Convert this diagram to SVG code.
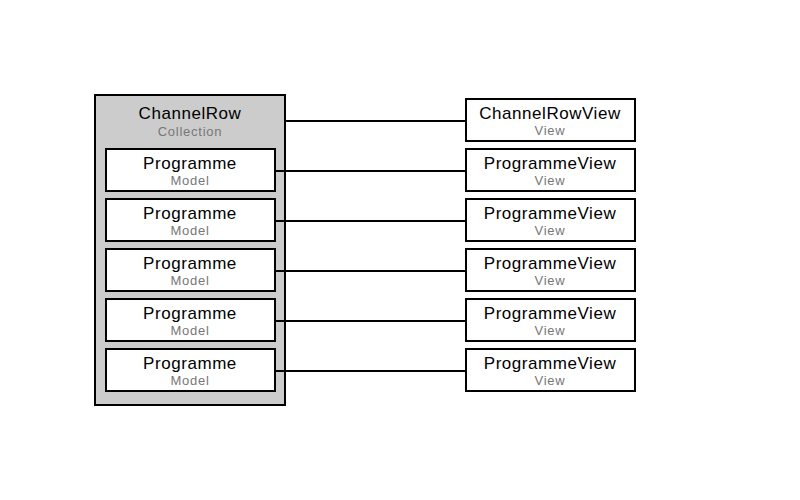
<svg xmlns="http://www.w3.org/2000/svg" width="800" height="500" viewBox="0 0 800 500">
<style>
.box{fill:#fff;stroke:#000;stroke-width:2}
.outer{fill:#ccc;stroke:#000;stroke-width:2}
.t{font-family:"Liberation Sans",Arial,sans-serif;font-size:17px;letter-spacing:0.55px;fill:#000;text-anchor:middle}
.s{font-family:"Liberation Sans",Arial,sans-serif;font-size:13px;letter-spacing:0.75px;fill:#777;text-anchor:middle}
.c{stroke:#000;stroke-width:2;fill:none}
</style>
<rect width="800" height="500" fill="#fff"/>
<g id="channelrow">
<rect class="outer" x="95" y="95" width="190" height="310"/>
<text class="t" x="190" y="119">ChannelRow</text>
<text class="s" x="190" y="136">Collection</text>
</g>
<g id="prog1"><rect class="box" x="106" y="149" width="169" height="42"/><text class="t" x="190" y="169">Programme</text><text class="s" x="190" y="185">Model</text></g>
<g id="prog2"><rect class="box" x="106" y="199" width="169" height="42"/><text class="t" x="190" y="219">Programme</text><text class="s" x="190" y="235">Model</text></g>
<g id="prog3"><rect class="box" x="106" y="249" width="169" height="42"/><text class="t" x="190" y="269">Programme</text><text class="s" x="190" y="285">Model</text></g>
<g id="prog4"><rect class="box" x="106" y="299" width="169" height="42"/><text class="t" x="190" y="319">Programme</text><text class="s" x="190" y="335">Model</text></g>
<g id="prog5"><rect class="box" x="106" y="349" width="169" height="42"/><text class="t" x="190" y="369">Programme</text><text class="s" x="190" y="385">Model</text></g>
<g id="channelrowview"><rect class="box" x="466" y="99" width="169" height="42"/><text class="t" x="550" y="119">ChannelRowView</text><text class="s" x="550" y="135">View</text></g>
<g id="pv1"><rect class="box" x="466" y="149" width="169" height="42"/><text class="t" x="550" y="169">ProgrammeView</text><text class="s" x="550" y="185">View</text></g>
<g id="pv2"><rect class="box" x="466" y="199" width="169" height="42"/><text class="t" x="550" y="219">ProgrammeView</text><text class="s" x="550" y="235">View</text></g>
<g id="pv3"><rect class="box" x="466" y="249" width="169" height="42"/><text class="t" x="550" y="269">ProgrammeView</text><text class="s" x="550" y="285">View</text></g>
<g id="pv4"><rect class="box" x="466" y="299" width="169" height="42"/><text class="t" x="550" y="319">ProgrammeView</text><text class="s" x="550" y="335">View</text></g>
<g id="pv5"><rect class="box" x="466" y="349" width="169" height="42"/><text class="t" x="550" y="369">ProgrammeView</text><text class="s" x="550" y="385">View</text></g>
<g id="connectors">
<line class="c" x1="286" y1="121" x2="466" y2="121"/>
<line class="c" x1="276" y1="171" x2="466" y2="171"/>
<line class="c" x1="276" y1="221" x2="466" y2="221"/>
<line class="c" x1="276" y1="271" x2="466" y2="271"/>
<line class="c" x1="276" y1="321" x2="466" y2="321"/>
<line class="c" x1="276" y1="371" x2="466" y2="371"/>
</g>
</svg>
